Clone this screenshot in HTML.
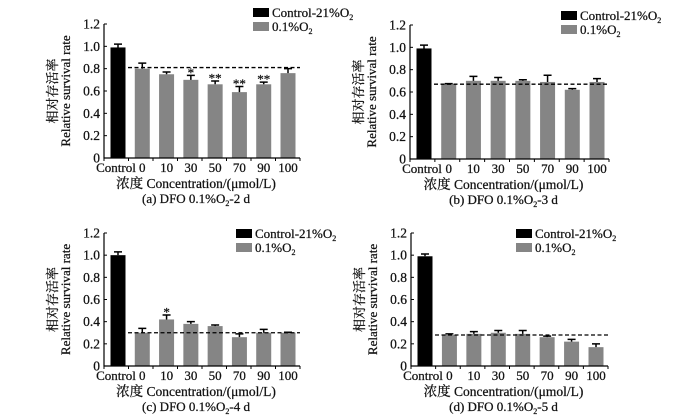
<!DOCTYPE html>
<html><head><meta charset="utf-8"><style>
body{margin:0;background:#fff}
svg text{font-family:"Liberation Serif","Noto Serif CJK SC",serif;fill:#111;stroke:#111;stroke-width:0.25}
</style></head><body>
<svg id="fig" width="700" height="415" viewBox="0 0 700 415" xmlns="http://www.w3.org/2000/svg"></svg>
<script>
const categories = ["Control","0","10","30","50","70","90","100"];
const tickLabels = ["0","0.2","0.4","0.6","0.8","1.0","1.2"];
const tickValues = [0,0.2,0.4,0.6,0.8,1.0,1.2];
const valuesA = [0.99,0.80,0.75,0.70,0.66,0.59,0.66,0.76];
const errorsA = [0.03,0.05,0.02,0.04,0.03,0.05,0.02,0.04];
const starsA = ["","","","*","**","**","**",""];
const refA = 0.81;
const valuesB = [0.99,0.67,0.70,0.70,0.70,0.69,0.62,0.69];
const errorsB = [0.03,0.005,0.04,0.03,0.01,0.06,0.01,0.03];
const starsB = ["","","","","","","",""];
const refB = 0.67;
const valuesC = [1.00,0.30,0.42,0.38,0.36,0.26,0.30,0.30];
const errorsC = [0.03,0.04,0.04,0.02,0.01,0.03,0.03,0.005];
const starsC = ["","","*","","","","",""];
const refC = 0.30;
const valuesD = [0.99,0.28,0.29,0.30,0.29,0.26,0.22,0.17];
const errorsD = [0.02,0.01,0.02,0.02,0.03,0.01,0.02,0.03];
const starsD = ["","","","","","","",""];
const refD = 0.28;

const NS="http://www.w3.org/2000/svg";
const svg=document.getElementById('fig');
function mk(tag,attrs,parent,text){const e=document.createElementNS(NS,tag);for(const k in attrs)e.setAttribute(k,attrs[k]);if(text!==undefined)e.textContent=text;(parent||svg).appendChild(e);return e;}

function panel(id,cfg,vals,errs,stars,ref,caption){
  const g=mk('g',{});
  
  
  const y=v=>cfg.y0-(v/1.2)*(cfg.y0-cfg.yT);
  const step=(cfg.xE-cfg.x0-26)/7;
  const x=i=>cfg.x0+14+i*step;
  vals.forEach((v,i)=>{
    const b=mk('rect',{x:x(i)-7.5,y:y(v),width:15,height:cfg.y0-y(v),fill:i===0?'#000':'#858585'},g);
    
    
    const et=y(v+errs[i]);
    const e=mk('path',{d:`M${x(i)} ${y(v)}V${et}M${x(i)-4} ${et}H${x(i)+4}`,stroke:'#000','stroke-width':1.5,fill:'none'},g);
    
    
    if(stars[i]){const s=mk('text',{x:x(i),y:et+1.5,'text-anchor':'middle','font-size':13},g,stars[i]);
      
      }
  });
  const rl=mk('line',{x1:cfg.x0+24,x2:cfg.xE,y1:y(ref),y2:y(ref),stroke:'#000','stroke-width':1.3,'stroke-dasharray':'4,2.5'},g);
  
  
  const ax=mk('path',{d:`M${cfg.x0} ${cfg.yT}V${cfg.y0}H${cfg.xE}`,stroke:'#000','stroke-width':1.2,fill:'none'},g);
  
  
  tickValues.forEach((t,i)=>{
    mk('line',{x1:cfg.x0,x2:cfg.x0+3,y1:y(t),y2:y(t),stroke:'#000'},g);
    const tl=mk('text',{x:cfg.x0-4,y:y(t)+4.5,'text-anchor':'end','font-size':13.5},g,tickLabels[i]);
    
    
  });
  for(let i=0;i<=8;i++){const xx=cfg.x0+i*(cfg.xE-cfg.x0)/8;mk('line',{x1:xx,x2:xx,y1:cfg.y0,y2:cfg.y0+3,stroke:'#000'},g);}
  categories.forEach((c,i)=>{
    const t=mk('text',{x:i===0?x(0)-2:x(i),y:cfg.y0+14,'text-anchor':'middle','font-size':13},g,c);
    
    
  });
  const cx=(cfg.x0+cfg.xE)/2-6;
  const xt=mk('text',{x:cx,y:cfg.y0+30,'text-anchor':'middle','font-size':13.5},g,'浓度 Concentration/(μmol/L)');
  
  
  const cp=mk('text',{x:cx,y:cfg.y0+45,'text-anchor':'middle','font-size':13},g);
  cp.innerHTML=caption;
  
  
  const my=(cfg.y0+cfg.yT)/2;
  const yt=mk('text',{transform:`translate(${cfg.x0-47},${my}) rotate(-90)`,'text-anchor':'middle','font-size':13},g,'相对存活率');
  
  
  const yt2=mk('text',{transform:`translate(${cfg.x0-34},${my}) rotate(-90)`,'text-anchor':'middle','font-size':13},g,'Relative survival rate');
  
  
  [['#000','Control-21%O<tspan font-size="8" dy="3">2</tspan>'],['#858585','0.1%O<tspan font-size="8" dy="3">2</tspan>']].forEach((L,i)=>{
    const ly=cfg.ly+i*14;
    const r=mk('rect',{x:cfg.lx,y:ly,width:16,height:9,fill:L[0]},g);
    
    
    const t=mk('text',{x:cfg.lx+19,y:ly+9,'font-size':13},g);
    t.innerHTML=L[1];
    
    
  });
}
panel('a',{x0:104,xE:300,y0:158,yT:24,lx:253,ly:8},valuesA,errorsA,starsA,refA,'(a) DFO 0.1%O<tspan font-size="8" dy="3">2</tspan><tspan dy="-3">-2 d</tspan>');
panel('b',{x0:410,xE:609,y0:159,yT:25,lx:561,ly:11},valuesB,errorsB,starsB,refB,'(b) DFO 0.1%O<tspan font-size="8" dy="3">2</tspan><tspan dy="-3">-3 d</tspan>');
panel('c',{x0:104,xE:300,y0:366,yT:233,lx:236,ly:229},valuesC,errorsC,starsC,refC,'(c) DFO 0.1%O<tspan font-size="8" dy="3">2</tspan><tspan dy="-3">-4 d</tspan>');
panel('d',{x0:411,xE:608,y0:366,yT:233,lx:516,ly:229},valuesD,errorsD,starsD,refD,'(d) DFO 0.1%O<tspan font-size="8" dy="3">2</tspan><tspan dy="-3">-5 d</tspan>');
</script>
</body></html>
